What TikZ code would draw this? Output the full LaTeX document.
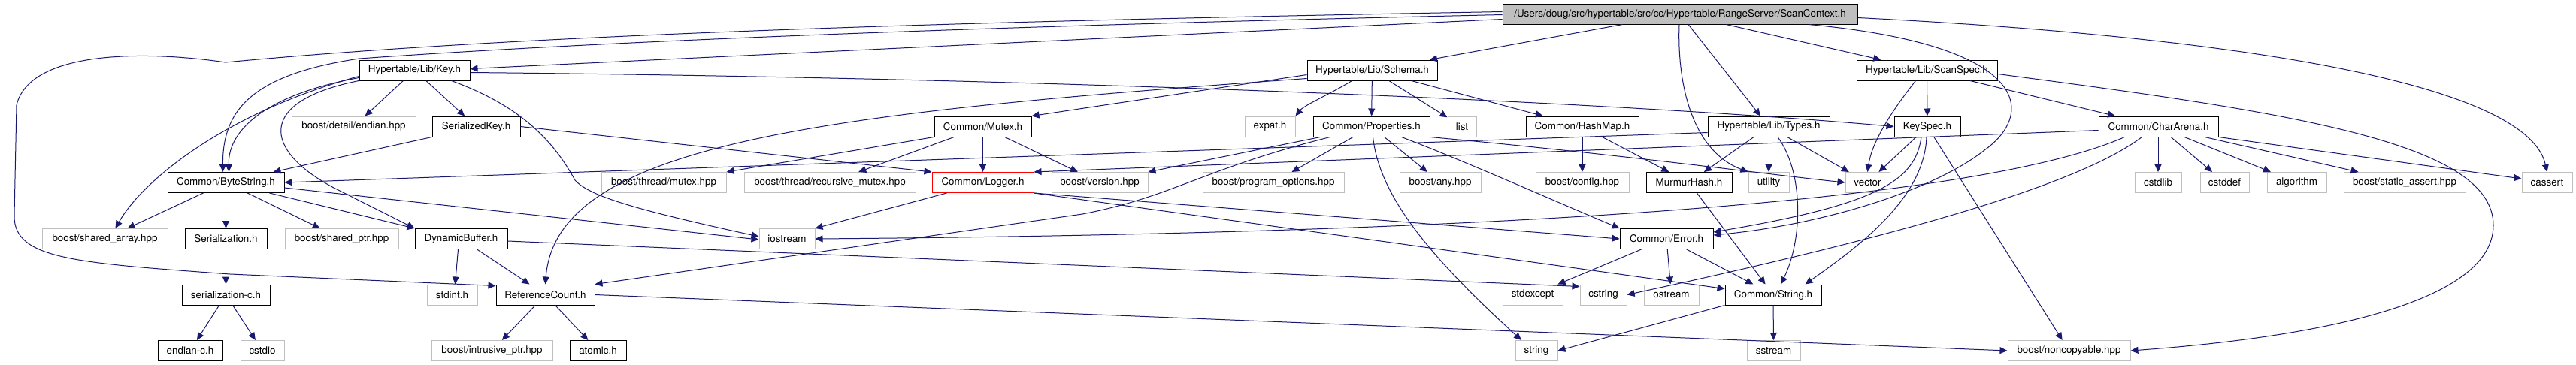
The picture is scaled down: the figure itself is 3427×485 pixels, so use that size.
\documentclass[tikz,border=0pt]{standalone}
\usepackage{fontspec}
\setmainfont{TeX Gyre Heros}
\usetikzlibrary{arrows.meta}
\usepackage{xcolor}
\definecolor{edgeblue}{HTML}{191970}
\definecolor{sysgrey}{HTML}{BFBFBF}
\definecolor{rootgrey}{HTML}{BFBFBF}

\begin{document}
\begin{tikzpicture}[
  x=1pt, y=-1pt,
  hdr/.style={rectangle, draw=black, fill=white, line width=1pt,
    minimum height=27pt, inner sep=0pt, font=\fontsize{13.4}{15}\selectfont},
  syshdr/.style={hdr, draw=sysgrey},
  roothdr/.style={hdr, fill=rootgrey},
  trunchdr/.style={hdr, draw=red},
  incl/.style={-{Triangle[length=10pt, width=9pt]}, line width=1pt, draw=edgeblue},
]
\fill[white] (0,0) rectangle (3427,485);
\useasboundingbox (0,0) rectangle (3427,485);

% === Row 0: the file itself ===
\node[roothdr, minimum width=472pt] (root) at (2235,18.5) {/Users/doug/src/hypertable/src/cc/Hypertable/RangeServer/ScanContext.h};

% === Row 1 ===
\node[hdr, minimum width=147pt] (keyh) at (551.5,93.5) {Hypertable/Lib/Key.h};
\node[hdr, minimum width=173pt] (schema) at (1825.5,93.5) {Hypertable/Lib/Schema.h};
\node[hdr, minimum width=187pt] (scanspec) at (2563.5,93.5) {Hypertable/Lib/ScanSpec.h};

% === Row 2 ===
\node[syshdr, minimum width=165pt] (endian) at (470.5,168.5) {boost/detail/endian.hpp};
\node[hdr, minimum width=117pt] (serkey) at (633.5,168.5) {SerializedKey.h};
\node[hdr, minimum width=129pt] (mutex) at (1307.5,168.5) {Common/Mutex.h};
\node[syshdr, minimum width=67pt] (expat) at (1689.5,168.5) {expat.h};
\node[hdr, minimum width=155pt] (props) at (1824.5,168.5) {Common/Properties.h};
\node[syshdr, minimum width=38pt] (list) at (1945,168.5) {list};
\node[hdr, minimum width=150pt] (hashmap) at (2105,168.5) {Common/HashMap.h};
\node[hdr, minimum width=162pt] (types) at (2353,168.5) {Hypertable/Lib/Types.h};
\node[hdr, minimum width=88pt] (keyspec) at (2564,168.5) {KeySpec.h};
\node[hdr, minimum width=159pt] (chararena) at (2871.5,168.5) {Common/CharArena.h};

% === Row 3 ===
\node[hdr, minimum width=155pt] (bytestr) at (300.5,243) {Common/ByteString.h};
\node[syshdr, minimum width=166pt] (bmutex) at (883,243) {boost/thread/mutex.hpp};
\node[syshdr, minimum width=228pt] (brecmutex) at (1104,243) {boost/thread/recursive\_mutex.hpp};
\node[trunchdr, minimum width=135pt] (logger) at (1307.5,243) {Common/Logger.h};
\node[syshdr, minimum width=128pt] (version) at (1463,243) {boost/version.hpp};
\node[syshdr, minimum width=188pt] (progopt) at (1694,243) {boost/program\_options.hpp};
\node[syshdr, minimum width=108pt] (any) at (1916,243) {boost/any.hpp};
\node[syshdr, minimum width=124pt] (config) at (2105,243) {boost/config.hpp};
\node[hdr, minimum width=114pt] (murmur) at (2247,243) {MurmurHash.h};
\node[syshdr, minimum width=54pt] (utility) at (2353,243) {utility};
\node[syshdr, minimum width=59pt] (vector) at (2484.5,243) {vector};
\node[syshdr, minimum width=62pt] (cstdlib) at (2871,243) {cstdlib};
\node[syshdr, minimum width=65pt] (cstddef) at (2959.5,243) {cstddef};
\node[syshdr, minimum width=79pt] (algorithm) at (3055.5,243) {algorithm};
\node[syshdr, minimum width=162pt] (staticassert) at (3199,243) {boost/static\_assert.hpp};
\node[syshdr, minimum width=67pt] (cassert) at (3388.5,243) {cassert};

% === Row 4 ===
\node[syshdr, minimum width=167pt] (sharedarr) at (139.5,318) {boost/shared\_array.hpp};
\node[hdr, minimum width=109pt] (serial) at (300.5,318) {Serialization.h};
\node[syshdr, minimum width=151pt] (sharedptr) at (454.5,318) {boost/shared\_ptr.hpp};
\node[hdr, minimum width=123pt] (dynbuf) at (613.5,318) {DynamicBuffer.h};
\node[syshdr, minimum width=74pt] (iostream) at (1047,318) {iostream};
\node[hdr, minimum width=124pt] (error) at (2217,318) {Common/Error.h};

% === Row 5 ===
\node[hdr, minimum width=117pt] (serialc) at (300.5,392.5) {serialization-c.h};
\node[syshdr, minimum width=67pt] (stdint) at (601.5,392.5) {stdint.h};
\node[hdr, minimum width=131pt] (refcount) at (725.5,392.5) {ReferenceCount.h};
\node[syshdr, minimum width=80pt] (stdexcept) at (2039,392.5) {stdexcept};
\node[syshdr, minimum width=62pt] (cstring) at (2133,392.5) {cstring};
\node[syshdr, minimum width=73pt] (ostream) at (2223.5,392.5) {ostream};
\node[hdr, minimum width=128pt] (cstr) at (2359,392.5) {Common/String.h};

% === Row 6 ===
\node[hdr, minimum width=86pt] (endianc) at (253,467) {endian-c.h};
\node[syshdr, minimum width=58pt] (cstdio) at (349,467) {cstdio};
\node[syshdr, minimum width=161pt] (intrusive) at (654.5,467) {boost/intrusive\_ptr.hpp};
\node[hdr, minimum width=75pt] (atomic) at (795.5,467) {atomic.h};
\node[syshdr, minimum width=56pt] (stdstring) at (2044,467) {string};
\node[syshdr, minimum width=71pt] (sstream) at (2359.5,467) {sstream};
\node[syshdr, minimum width=163pt] (noncopy) at (2752.5,467) {boost/noncopyable.hpp};

% === ScanContext.h includes ===
\draw[incl] ([yshift=-7pt]root.west) -- ([yshift=2pt]keyh.east);
\draw[incl] ([yshift=-1pt]root.west) .. controls (1300,35) and (800,55) .. (478,78) .. controls (330,100) and (296,150) .. ([xshift=-4pt]bytestr.north);
\draw[incl] ([yshift=3pt]root.west) .. controls (1300,28) and (700,45) .. (300,83) .. controls (200,68) and (40,65) .. (22,140) -- (19,288) .. controls (19,345) and (100,350) .. (306,365) -- ([yshift=12pt]refcount.west);
\draw[incl] (root) -- (schema);
\draw[incl] (root) -- (scanspec);
\draw[incl] (root) -- (types);
\draw[incl] ([xshift=-1pt]root.south) .. controls (2231,110) and (2250,200) .. (utility.north west);
\draw[incl] ([xshift=171pt]root.south) .. controls (2700,60) and (2710,150) .. (2640,200) .. controls (2570,255) and (2420,300) .. ([yshift=5pt]error.east);
\draw[incl] ([yshift=-5pt]root.east) .. controls (2900,45) and (3360,100) .. (cassert.north);

% === Key.h ===
\draw[incl] (keyh) -- (endian);
\draw[incl] (keyh) -- (serkey);
\draw[incl] ([yshift=-10pt]keyh.west) .. controls (360,125) and (303,170) .. ([xshift=4pt]bytestr.north);
\draw[incl] ([yshift=-8pt]keyh.west) .. controls (300,150) and (190,240) .. ([xshift=14pt]sharedarr.north);
\draw[incl] (keyh.south west) .. controls (340,135) and (350,200) .. (444,250) -- (dynbuf.north west);
\draw[incl] ([xshift=49pt]keyh.south) .. controls (690,140) and (735,185) .. (765,240) .. controls (785,262) and (850,280) .. ([yshift=3pt]iostream.west);
\draw[incl] ([yshift=-3pt]keyh.east) .. controls (1500,105) and (2200,140) .. (keyspec.west);
\draw[incl] (serkey.south west) -- ([xshift=-15pt]bytestr.north east);
\draw[incl] (serkey.east) -- (logger.north west);

% === ByteString.h, DynamicBuffer.h, Serialization.h ===
\draw[incl] (bytestr) -- (sharedarr);
\draw[incl] (bytestr) -- (serial);
\draw[incl] (bytestr) -- (sharedptr);
\draw[incl] ([xshift=-20pt]bytestr.south east) -- (dynbuf.north west);
\draw[incl] ([yshift=-7pt]bytestr.east) -- ([yshift=-1pt]iostream.west);
\draw[incl] ([xshift=-4pt]dynbuf.south) -- ([xshift=4pt]stdint.north);
\draw[incl] (dynbuf) -- (refcount);
\draw[incl] ([yshift=-3pt]dynbuf.east) -- ([yshift=11pt]cstring.west);
\draw[incl] (serial) -- (serialc);
\draw[incl] (serialc) -- (endianc);
\draw[incl] (serialc) -- (cstdio);
\draw[incl] (refcount) -- (intrusive);
\draw[incl] (refcount) -- (atomic);
\draw[incl] (refcount.east) -- (noncopy.west);

% === Schema.h, Mutex.h, Logger.h ===
\draw[incl] ([yshift=-6pt]schema.west) -- (mutex.north east);
\draw[incl] ([yshift=-11pt]schema.west) .. controls (1100,150) and (740,190) .. (refcount.north);
\draw[incl] ([xshift=-27pt]schema.south) .. controls (1770,125) and (1735,140) .. (expat.north east);
\draw[incl] (schema) -- (props);
\draw[incl] (schema) -- (list);
\draw[incl] (schema) -- (hashmap);
\draw[incl] (mutex.south west) -- (bmutex.north east);
\draw[incl] (mutex) -- (brecmutex);
\draw[incl] (mutex) -- (logger);
\draw[incl] (mutex) -- (version);
\draw[incl] ([xshift=-48pt]logger.south) -- (iostream.north east);
\draw[incl] (logger.south east) -- (error.west);
\draw[incl] (logger.south east) -- ([yshift=8pt]cstr.west);

% === Properties.h, HashMap.h ===
\draw[incl] (props) -- (progopt);
\draw[incl] ([xshift=-68pt]props.south) -- (version.north east);
\draw[incl] (props) -- (any);
\draw[incl] ([xshift=2pt]props.south) .. controls (1835,260) and (1900,340) .. ([xshift=-20pt]stdstring.north);
\draw[incl] ([xshift=40pt]props.south) .. controls (1950,215) and (2050,260) .. (error.north west);
\draw[incl] (props.south east) .. controls (2150,205) and (2350,232) .. (vector.west);
\draw[incl] ([xshift=-55pt]props.south) .. controls (1600,225) and (1560,262) .. (1440,285) -- (refcount.north east);
\draw[incl] (hashmap) -- (config);
\draw[incl] (hashmap) -- (murmur);
\draw[incl] (murmur) -- (cstr);

% === Types.h ===
\draw[incl] ([yshift=-8pt]types.west) -- (bytestr.east);
\draw[incl] (types) -- (murmur);
\draw[incl] (types) -- (utility);
\draw[incl] (types) -- (vector);
\draw[incl] ([xshift=12pt]types.south) .. controls (2400,230) and (2398,320) .. ([xshift=10pt]cstr.north);

% === ScanSpec.h, KeySpec.h ===
\draw[incl] ([xshift=-15pt]scanspec.south) .. controls (2515,150) and (2490,190) .. (vector.north);
\draw[incl] (scanspec) -- (keyspec);
\draw[incl] (scanspec) -- (chararena);
\draw[incl] ([yshift=-5pt]scanspec.east) .. controls (3050,150) and (3317,190) .. (3317,300) .. controls (3317,420) and (3000,455) .. (noncopy.east);
\draw[incl] (keyspec) -- (vector);
\draw[incl] ([xshift=-1pt]keyspec.south) .. controls (2560,265) and (2470,330) .. ([xshift=-22pt]cstr.north east);
\draw[incl] ([xshift=-8pt]keyspec.south) .. controls (2548,240) and (2500,272) .. ([yshift=9pt]error.east);
\draw[incl] (keyspec) -- (noncopy);

% === CharArena.h ===
\draw[incl] ([yshift=-5pt]chararena.west) -- (logger.north east);
\draw[incl] ([xshift=-45pt]chararena.south) .. controls (2650,260) and (2100,310) .. (iostream.east);
\draw[incl] ([xshift=-22pt]chararena.south) .. controls (2760,250) and (2500,320) .. (cstring.east);
\draw[incl] ([xshift=-0.5pt]chararena.south) -- (cstdlib.north);
\draw[incl] (chararena) -- (cstddef);
\draw[incl] (chararena) -- (algorithm);
\draw[incl] (chararena) -- (staticassert);
\draw[incl] (chararena.south east) -- ([yshift=5pt]cassert.west);

% === Error.h, String.h ===
\draw[incl] (error) -- (stdexcept);
\draw[incl] (error) -- (ostream);
\draw[incl] (error) -- (cstr);
\draw[incl] (cstr) -- (sstream);
\draw[incl] (cstr.south west) -- (stdstring.east);
\end{tikzpicture}
\end{document}
